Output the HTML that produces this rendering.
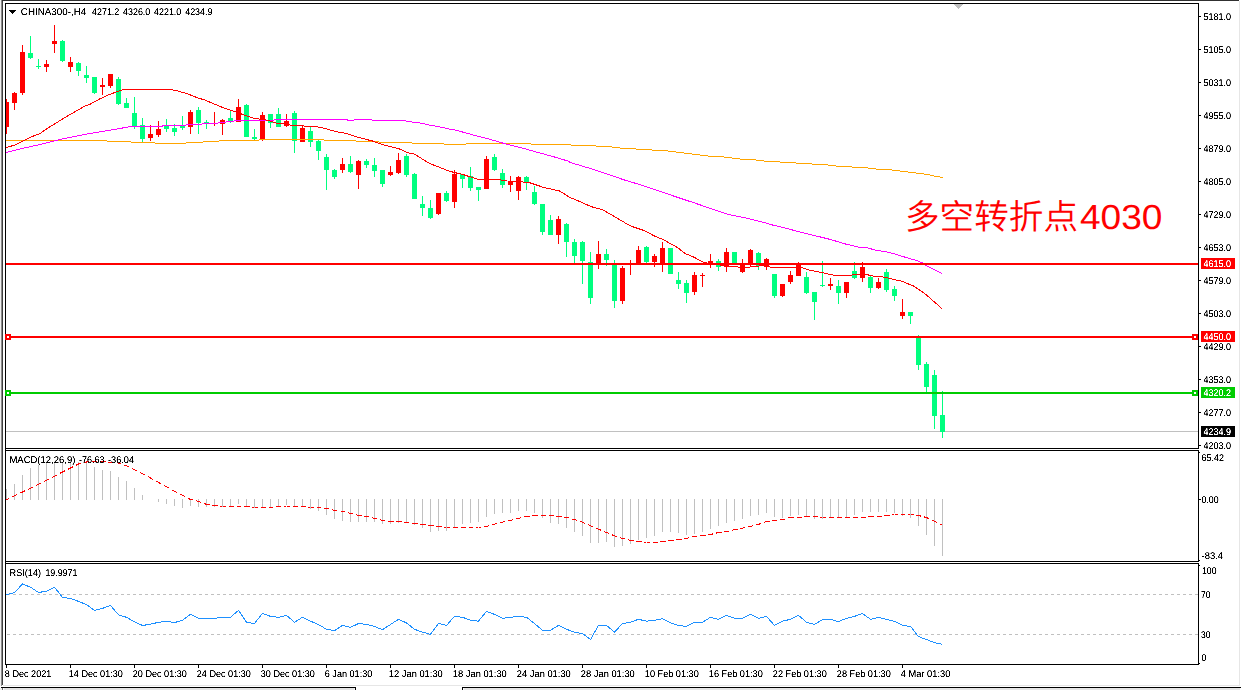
<!DOCTYPE html>
<html lang="zh"><head><meta charset="utf-8"><title>CHINA300-,H4</title>
<style>html,body{margin:0;padding:0;background:#fff;overflow:hidden}svg{display:block}.t{font-family:"Liberation Sans",sans-serif;white-space:pre;text-rendering:geometricPrecision}.big{font-family:"Liberation Sans","Noto Sans CJK SC",sans-serif}</style></head><body>
<svg width="1241" height="690" viewBox="0 0 1241 690" shape-rendering="crispEdges">
<defs><filter id="crisp" x="0" y="0" width="1" height="1" color-interpolation-filters="sRGB"><feComponentTransfer><feFuncA type="table" tableValues="0 0 0.2 0.55 0.9 1 1 1"/></feComponentTransfer></filter></defs>
<rect x="0" y="0" width="1241" height="690" fill="#ffffff"/>
<rect x="0" y="0" width="1" height="686" fill="#f0f0f0"/>
<rect x="1" y="0" width="1" height="686" fill="#8c8c8c"/>
<rect x="2" y="0" width="1" height="685" fill="#404040"/>
<rect x="2" y="0" width="1237" height="1" fill="#303030"/>
<rect x="1239" y="1" width="1" height="685" fill="#e6e6e6"/>
<rect x="3" y="685" width="1237" height="1" fill="#e6e6e6"/>
<rect x="1" y="687" width="355" height="1" fill="#000"/>
<rect x="355" y="687" width="1" height="3" fill="#000"/>
<rect x="4" y="688" width="350" height="2" fill="#e4e4e4"/>
<rect x="354" y="688" width="1" height="2" fill="#f4f4f4"/>
<rect x="2" y="688" width="1" height="2" fill="#707070"/>
<rect x="0" y="688" width="2" height="2" fill="#f0f0f0"/>
<rect x="462" y="687" width="779" height="1" fill="#000"/>
<rect x="462" y="687" width="1" height="3" fill="#000"/>
<rect x="464" y="688" width="776" height="2" fill="#e6e6e6"/>
<rect x="5" y="3" width="1194" height="1" fill="#000"/>
<rect x="5" y="3" width="1" height="662" fill="#000"/>
<rect x="5" y="448" width="1194" height="1" fill="#000"/>
<rect x="5" y="450" width="1194" height="1" fill="#000"/>
<rect x="5" y="561" width="1194" height="1" fill="#000"/>
<rect x="5" y="563" width="1194" height="1" fill="#000"/>
<rect x="5" y="664" width="1194" height="1" fill="#000"/>
<rect x="1198" y="3" width="1" height="446" fill="#000"/>
<rect x="1198" y="450" width="1" height="112" fill="#000"/>
<rect x="1198" y="563" width="1" height="102" fill="#000"/>
<rect x="5" y="449" width="1" height="1" fill="#000"/>
<rect x="5" y="562" width="1" height="1" fill="#000"/>
<rect x="954" y="4" width="9" height="1" fill="#c0c0c0"/>
<rect x="955" y="5" width="7" height="1" fill="#c0c0c0"/>
<rect x="956" y="6" width="5" height="1" fill="#c0c0c0"/>
<rect x="957" y="7" width="3" height="1" fill="#c0c0c0"/>
<rect x="958" y="8" width="1" height="1" fill="#c0c0c0"/>
<rect x="9" y="10" width="7" height="1" fill="#000"/>
<rect x="10" y="11" width="5" height="1" fill="#000"/>
<rect x="11" y="12" width="3" height="1" fill="#000"/>
<rect x="12" y="13" width="1" height="1" fill="#000"/>
<rect x="6" y="431" width="1192" height="1" fill="#c0c0c0"/>
<rect x="6" y="99" width="1" height="35" fill="#ff0000"/>
<rect x="6" y="102" width="3" height="25" fill="#ff0000"/>
<rect x="14" y="92" width="1" height="18" fill="#ff0000"/>
<rect x="12" y="93" width="5" height="10" fill="#ff0000"/>
<rect x="22" y="45" width="1" height="50" fill="#ff0000"/>
<rect x="20" y="52" width="5" height="41" fill="#ff0000"/>
<rect x="30" y="36" width="1" height="23" fill="#00ff7f"/>
<rect x="28" y="53" width="5" height="5" fill="#00ff7f"/>
<rect x="38" y="59" width="1" height="10" fill="#00ff7f"/>
<rect x="36" y="66" width="5" height="1" fill="#00ff7f"/>
<rect x="46" y="60" width="1" height="12" fill="#ff0000"/>
<rect x="44" y="64" width="5" height="3" fill="#ff0000"/>
<rect x="54" y="25" width="1" height="28" fill="#ff0000"/>
<rect x="52" y="41" width="5" height="3" fill="#ff0000"/>
<rect x="62" y="40" width="1" height="22" fill="#00ff7f"/>
<rect x="60" y="41" width="5" height="20" fill="#00ff7f"/>
<rect x="70" y="57" width="1" height="15" fill="#ff0000"/>
<rect x="68" y="62" width="5" height="5" fill="#ff0000"/>
<rect x="78" y="62" width="1" height="14" fill="#00ff7f"/>
<rect x="76" y="63" width="5" height="8" fill="#00ff7f"/>
<rect x="86" y="66" width="1" height="17" fill="#00ff7f"/>
<rect x="84" y="75" width="5" height="3" fill="#00ff7f"/>
<rect x="94" y="77" width="1" height="17" fill="#00ff7f"/>
<rect x="92" y="77" width="5" height="16" fill="#00ff7f"/>
<rect x="102" y="78" width="1" height="17" fill="#ff0000"/>
<rect x="100" y="85" width="5" height="2" fill="#ff0000"/>
<rect x="110" y="74" width="1" height="14" fill="#ff0000"/>
<rect x="108" y="74" width="5" height="12" fill="#ff0000"/>
<rect x="118" y="77" width="1" height="28" fill="#00ff7f"/>
<rect x="116" y="79" width="5" height="25" fill="#00ff7f"/>
<rect x="126" y="98" width="1" height="10" fill="#00ff7f"/>
<rect x="124" y="103" width="5" height="5" fill="#00ff7f"/>
<rect x="134" y="97" width="1" height="32" fill="#00ff7f"/>
<rect x="132" y="113" width="5" height="13" fill="#00ff7f"/>
<rect x="142" y="118" width="1" height="24" fill="#00ff7f"/>
<rect x="140" y="125" width="5" height="14" fill="#00ff7f"/>
<rect x="150" y="125" width="1" height="16" fill="#ff0000"/>
<rect x="148" y="134" width="5" height="4" fill="#ff0000"/>
<rect x="158" y="121" width="1" height="16" fill="#ff0000"/>
<rect x="156" y="129" width="5" height="6" fill="#ff0000"/>
<rect x="166" y="119" width="1" height="13" fill="#00ff7f"/>
<rect x="164" y="126" width="5" height="3" fill="#00ff7f"/>
<rect x="174" y="124" width="1" height="12" fill="#00ff7f"/>
<rect x="172" y="128" width="5" height="4" fill="#00ff7f"/>
<rect x="182" y="116" width="1" height="14" fill="#00ff7f"/>
<rect x="180" y="126" width="5" height="2" fill="#00ff7f"/>
<rect x="190" y="110" width="1" height="24" fill="#ff0000"/>
<rect x="188" y="112" width="5" height="15" fill="#ff0000"/>
<rect x="198" y="107" width="1" height="27" fill="#00ff7f"/>
<rect x="196" y="110" width="5" height="13" fill="#00ff7f"/>
<rect x="206" y="120" width="1" height="9" fill="#00ff7f"/>
<rect x="204" y="122" width="5" height="1" fill="#00ff7f"/>
<rect x="214" y="112" width="1" height="14" fill="#ff0000"/>
<rect x="212" y="123" width="5" height="1" fill="#ff0000"/>
<rect x="222" y="119" width="1" height="16" fill="#ff0000"/>
<rect x="220" y="120" width="5" height="4" fill="#ff0000"/>
<rect x="230" y="111" width="1" height="12" fill="#00ff7f"/>
<rect x="228" y="118" width="5" height="3" fill="#00ff7f"/>
<rect x="238" y="99" width="1" height="23" fill="#ff0000"/>
<rect x="236" y="107" width="5" height="15" fill="#ff0000"/>
<rect x="246" y="104" width="1" height="33" fill="#00ff7f"/>
<rect x="244" y="105" width="5" height="32" fill="#00ff7f"/>
<rect x="254" y="129" width="1" height="11" fill="#00ff7f"/>
<rect x="252" y="137" width="5" height="2" fill="#00ff7f"/>
<rect x="262" y="112" width="1" height="29" fill="#ff0000"/>
<rect x="260" y="115" width="5" height="24" fill="#ff0000"/>
<rect x="270" y="114" width="1" height="14" fill="#00ff7f"/>
<rect x="268" y="114" width="5" height="9" fill="#00ff7f"/>
<rect x="278" y="108" width="1" height="19" fill="#00ff7f"/>
<rect x="276" y="114" width="5" height="13" fill="#00ff7f"/>
<rect x="286" y="114" width="1" height="13" fill="#ff0000"/>
<rect x="284" y="121" width="5" height="5" fill="#ff0000"/>
<rect x="294" y="111" width="1" height="42" fill="#00ff7f"/>
<rect x="292" y="113" width="5" height="28" fill="#00ff7f"/>
<rect x="302" y="125" width="1" height="17" fill="#ff0000"/>
<rect x="300" y="128" width="5" height="14" fill="#ff0000"/>
<rect x="310" y="127" width="1" height="20" fill="#00ff7f"/>
<rect x="308" y="131" width="5" height="11" fill="#00ff7f"/>
<rect x="318" y="140" width="1" height="20" fill="#00ff7f"/>
<rect x="316" y="141" width="5" height="10" fill="#00ff7f"/>
<rect x="326" y="154" width="1" height="36" fill="#00ff7f"/>
<rect x="324" y="157" width="5" height="13" fill="#00ff7f"/>
<rect x="334" y="169" width="1" height="10" fill="#00ff7f"/>
<rect x="332" y="170" width="5" height="7" fill="#00ff7f"/>
<rect x="342" y="158" width="1" height="15" fill="#ff0000"/>
<rect x="340" y="164" width="5" height="6" fill="#ff0000"/>
<rect x="350" y="156" width="1" height="17" fill="#00ff7f"/>
<rect x="348" y="164" width="5" height="8" fill="#00ff7f"/>
<rect x="358" y="160" width="1" height="29" fill="#ff0000"/>
<rect x="356" y="161" width="5" height="14" fill="#ff0000"/>
<rect x="366" y="159" width="1" height="9" fill="#00ff7f"/>
<rect x="364" y="161" width="5" height="4" fill="#00ff7f"/>
<rect x="374" y="158" width="1" height="19" fill="#00ff7f"/>
<rect x="372" y="165" width="5" height="6" fill="#00ff7f"/>
<rect x="382" y="170" width="1" height="17" fill="#00ff7f"/>
<rect x="380" y="170" width="5" height="14" fill="#00ff7f"/>
<rect x="390" y="166" width="1" height="10" fill="#ff0000"/>
<rect x="388" y="172" width="5" height="3" fill="#ff0000"/>
<rect x="398" y="153" width="1" height="21" fill="#ff0000"/>
<rect x="396" y="160" width="5" height="13" fill="#ff0000"/>
<rect x="406" y="154" width="1" height="23" fill="#00ff7f"/>
<rect x="404" y="156" width="5" height="19" fill="#00ff7f"/>
<rect x="414" y="173" width="1" height="26" fill="#00ff7f"/>
<rect x="412" y="174" width="5" height="25" fill="#00ff7f"/>
<rect x="422" y="196" width="1" height="20" fill="#00ff7f"/>
<rect x="420" y="204" width="5" height="4" fill="#00ff7f"/>
<rect x="430" y="200" width="1" height="19" fill="#00ff7f"/>
<rect x="428" y="208" width="5" height="10" fill="#00ff7f"/>
<rect x="438" y="193" width="1" height="22" fill="#ff0000"/>
<rect x="436" y="193" width="5" height="21" fill="#ff0000"/>
<rect x="446" y="191" width="1" height="11" fill="#00ff7f"/>
<rect x="444" y="193" width="5" height="8" fill="#00ff7f"/>
<rect x="454" y="170" width="1" height="38" fill="#ff0000"/>
<rect x="452" y="174" width="5" height="28" fill="#ff0000"/>
<rect x="462" y="174" width="1" height="14" fill="#00ff7f"/>
<rect x="460" y="174" width="5" height="5" fill="#00ff7f"/>
<rect x="470" y="167" width="1" height="24" fill="#00ff7f"/>
<rect x="468" y="176" width="5" height="12" fill="#00ff7f"/>
<rect x="478" y="187" width="1" height="14" fill="#00ff7f"/>
<rect x="476" y="187" width="5" height="3" fill="#00ff7f"/>
<rect x="486" y="156" width="1" height="33" fill="#ff0000"/>
<rect x="484" y="159" width="5" height="30" fill="#ff0000"/>
<rect x="494" y="154" width="1" height="17" fill="#00ff7f"/>
<rect x="492" y="157" width="5" height="13" fill="#00ff7f"/>
<rect x="502" y="169" width="1" height="19" fill="#00ff7f"/>
<rect x="500" y="173" width="5" height="12" fill="#00ff7f"/>
<rect x="510" y="176" width="1" height="16" fill="#ff0000"/>
<rect x="508" y="181" width="5" height="4" fill="#ff0000"/>
<rect x="518" y="176" width="1" height="24" fill="#ff0000"/>
<rect x="516" y="177" width="5" height="14" fill="#ff0000"/>
<rect x="526" y="176" width="1" height="14" fill="#00ff7f"/>
<rect x="524" y="177" width="5" height="5" fill="#00ff7f"/>
<rect x="534" y="186" width="1" height="19" fill="#00ff7f"/>
<rect x="532" y="192" width="5" height="12" fill="#00ff7f"/>
<rect x="542" y="204" width="1" height="31" fill="#00ff7f"/>
<rect x="540" y="204" width="5" height="28" fill="#00ff7f"/>
<rect x="550" y="215" width="1" height="20" fill="#00ff7f"/>
<rect x="548" y="220" width="5" height="15" fill="#00ff7f"/>
<rect x="558" y="216" width="1" height="28" fill="#ff0000"/>
<rect x="556" y="219" width="5" height="16" fill="#ff0000"/>
<rect x="566" y="223" width="1" height="34" fill="#00ff7f"/>
<rect x="564" y="224" width="5" height="18" fill="#00ff7f"/>
<rect x="574" y="239" width="1" height="24" fill="#00ff7f"/>
<rect x="572" y="242" width="5" height="14" fill="#00ff7f"/>
<rect x="582" y="241" width="1" height="43" fill="#00ff7f"/>
<rect x="580" y="242" width="5" height="19" fill="#00ff7f"/>
<rect x="590" y="252" width="1" height="52" fill="#00ff7f"/>
<rect x="588" y="262" width="5" height="36" fill="#00ff7f"/>
<rect x="598" y="241" width="1" height="28" fill="#ff0000"/>
<rect x="596" y="254" width="5" height="10" fill="#ff0000"/>
<rect x="606" y="249" width="1" height="17" fill="#00ff7f"/>
<rect x="604" y="254" width="5" height="6" fill="#00ff7f"/>
<rect x="614" y="260" width="1" height="48" fill="#00ff7f"/>
<rect x="612" y="265" width="5" height="36" fill="#00ff7f"/>
<rect x="622" y="266" width="1" height="38" fill="#ff0000"/>
<rect x="620" y="268" width="5" height="33" fill="#ff0000"/>
<rect x="630" y="260" width="1" height="15" fill="#ff0000"/>
<rect x="628" y="263" width="5" height="1" fill="#ff0000"/>
<rect x="638" y="246" width="1" height="17" fill="#ff0000"/>
<rect x="636" y="250" width="5" height="13" fill="#ff0000"/>
<rect x="646" y="246" width="1" height="17" fill="#00ff7f"/>
<rect x="644" y="247" width="5" height="15" fill="#00ff7f"/>
<rect x="654" y="254" width="1" height="13" fill="#ff0000"/>
<rect x="652" y="256" width="5" height="6" fill="#ff0000"/>
<rect x="662" y="242" width="1" height="30" fill="#ff0000"/>
<rect x="660" y="248" width="5" height="15" fill="#ff0000"/>
<rect x="670" y="248" width="1" height="26" fill="#00ff7f"/>
<rect x="668" y="248" width="5" height="26" fill="#00ff7f"/>
<rect x="678" y="272" width="1" height="17" fill="#00ff7f"/>
<rect x="676" y="280" width="5" height="4" fill="#00ff7f"/>
<rect x="686" y="280" width="1" height="23" fill="#00ff7f"/>
<rect x="684" y="283" width="5" height="10" fill="#00ff7f"/>
<rect x="694" y="272" width="1" height="23" fill="#ff0000"/>
<rect x="692" y="275" width="5" height="17" fill="#ff0000"/>
<rect x="702" y="273" width="1" height="14" fill="#ff0000"/>
<rect x="700" y="275" width="5" height="1" fill="#ff0000"/>
<rect x="710" y="254" width="1" height="14" fill="#ff0000"/>
<rect x="708" y="261" width="5" height="4" fill="#ff0000"/>
<rect x="718" y="259" width="1" height="12" fill="#00ff7f"/>
<rect x="716" y="261" width="5" height="6" fill="#00ff7f"/>
<rect x="726" y="248" width="1" height="24" fill="#ff0000"/>
<rect x="724" y="252" width="5" height="15" fill="#ff0000"/>
<rect x="734" y="252" width="1" height="11" fill="#00ff7f"/>
<rect x="732" y="252" width="5" height="11" fill="#00ff7f"/>
<rect x="742" y="259" width="1" height="14" fill="#ff0000"/>
<rect x="740" y="264" width="5" height="8" fill="#ff0000"/>
<rect x="750" y="249" width="1" height="17" fill="#ff0000"/>
<rect x="748" y="250" width="5" height="15" fill="#ff0000"/>
<rect x="758" y="252" width="1" height="18" fill="#00ff7f"/>
<rect x="756" y="253" width="5" height="13" fill="#00ff7f"/>
<rect x="766" y="258" width="1" height="12" fill="#ff0000"/>
<rect x="764" y="259" width="5" height="8" fill="#ff0000"/>
<rect x="774" y="274" width="1" height="24" fill="#00ff7f"/>
<rect x="772" y="274" width="5" height="22" fill="#00ff7f"/>
<rect x="782" y="284" width="1" height="13" fill="#ff0000"/>
<rect x="780" y="284" width="5" height="12" fill="#ff0000"/>
<rect x="790" y="271" width="1" height="13" fill="#ff0000"/>
<rect x="788" y="275" width="5" height="7" fill="#ff0000"/>
<rect x="798" y="262" width="1" height="14" fill="#ff0000"/>
<rect x="796" y="263" width="5" height="13" fill="#ff0000"/>
<rect x="806" y="272" width="1" height="22" fill="#00ff7f"/>
<rect x="804" y="277" width="5" height="16" fill="#00ff7f"/>
<rect x="814" y="292" width="1" height="28" fill="#00ff7f"/>
<rect x="812" y="292" width="5" height="10" fill="#00ff7f"/>
<rect x="822" y="261" width="1" height="26" fill="#00ff7f"/>
<rect x="820" y="285" width="5" height="1" fill="#00ff7f"/>
<rect x="830" y="278" width="1" height="12" fill="#ff0000"/>
<rect x="828" y="284" width="5" height="2" fill="#ff0000"/>
<rect x="838" y="280" width="1" height="24" fill="#00ff7f"/>
<rect x="836" y="286" width="5" height="7" fill="#00ff7f"/>
<rect x="846" y="282" width="1" height="16" fill="#ff0000"/>
<rect x="844" y="282" width="5" height="11" fill="#ff0000"/>
<rect x="854" y="262" width="1" height="17" fill="#00ff7f"/>
<rect x="852" y="271" width="5" height="7" fill="#00ff7f"/>
<rect x="862" y="262" width="1" height="20" fill="#ff0000"/>
<rect x="860" y="267" width="5" height="11" fill="#ff0000"/>
<rect x="870" y="276" width="1" height="17" fill="#00ff7f"/>
<rect x="868" y="277" width="5" height="11" fill="#00ff7f"/>
<rect x="878" y="278" width="1" height="11" fill="#ff0000"/>
<rect x="876" y="282" width="5" height="6" fill="#ff0000"/>
<rect x="886" y="269" width="1" height="23" fill="#00ff7f"/>
<rect x="884" y="272" width="5" height="18" fill="#00ff7f"/>
<rect x="894" y="286" width="1" height="15" fill="#00ff7f"/>
<rect x="892" y="289" width="5" height="7" fill="#00ff7f"/>
<rect x="902" y="299" width="1" height="20" fill="#ff0000"/>
<rect x="900" y="312" width="5" height="4" fill="#ff0000"/>
<rect x="910" y="312" width="1" height="12" fill="#00ff7f"/>
<rect x="908" y="312" width="5" height="4" fill="#00ff7f"/>
<rect x="918" y="335" width="1" height="35" fill="#00ff7f"/>
<rect x="916" y="338" width="5" height="27" fill="#00ff7f"/>
<rect x="926" y="362" width="1" height="30" fill="#00ff7f"/>
<rect x="924" y="364" width="5" height="23" fill="#00ff7f"/>
<rect x="934" y="370" width="1" height="59" fill="#00ff7f"/>
<rect x="932" y="375" width="5" height="41" fill="#00ff7f"/>
<rect x="942" y="391" width="1" height="47" fill="#00ff7f"/>
<rect x="940" y="415" width="5" height="17" fill="#00ff7f"/>
<rect x="6" y="140" width="101" height="1" fill="#ffa500"/>
<rect x="107" y="141" width="24" height="1" fill="#ffa500"/>
<rect x="131" y="142" width="24" height="1" fill="#ffa500"/>
<rect x="155" y="143" width="31" height="1" fill="#ffa500"/>
<rect x="186" y="142" width="17" height="1" fill="#ffa500"/>
<rect x="203" y="141" width="16" height="1" fill="#ffa500"/>
<rect x="219" y="140" width="40" height="1" fill="#ffa500"/>
<rect x="259" y="139" width="65" height="1" fill="#ffa500"/>
<rect x="324" y="140" width="32" height="1" fill="#ffa500"/>
<rect x="356" y="141" width="23" height="1" fill="#ffa500"/>
<rect x="379" y="142" width="33" height="1" fill="#ffa500"/>
<rect x="412" y="143" width="32" height="1" fill="#ffa500"/>
<rect x="444" y="144" width="22" height="1" fill="#ffa500"/>
<rect x="466" y="143" width="65" height="1" fill="#ffa500"/>
<rect x="531" y="144" width="40" height="1" fill="#ffa500"/>
<rect x="571" y="145" width="25" height="1" fill="#ffa500"/>
<rect x="596" y="146" width="16" height="1" fill="#ffa500"/>
<rect x="612" y="147" width="8" height="1" fill="#ffa500"/>
<rect x="620" y="148" width="16" height="1" fill="#ffa500"/>
<rect x="636" y="149" width="16" height="1" fill="#ffa500"/>
<rect x="652" y="150" width="16" height="1" fill="#ffa500"/>
<rect x="668" y="151" width="8" height="1" fill="#ffa500"/>
<rect x="676" y="152" width="8" height="1" fill="#ffa500"/>
<rect x="684" y="153" width="8" height="1" fill="#ffa500"/>
<rect x="692" y="154" width="8" height="1" fill="#ffa500"/>
<rect x="700" y="155" width="8" height="1" fill="#ffa500"/>
<rect x="708" y="156" width="16" height="1" fill="#ffa500"/>
<rect x="724" y="157" width="8" height="1" fill="#ffa500"/>
<rect x="732" y="158" width="8" height="1" fill="#ffa500"/>
<rect x="740" y="159" width="16" height="1" fill="#ffa500"/>
<rect x="756" y="160" width="8" height="1" fill="#ffa500"/>
<rect x="764" y="161" width="16" height="1" fill="#ffa500"/>
<rect x="780" y="162" width="16" height="1" fill="#ffa500"/>
<rect x="796" y="163" width="16" height="1" fill="#ffa500"/>
<rect x="812" y="164" width="16" height="1" fill="#ffa500"/>
<rect x="828" y="165" width="8" height="1" fill="#ffa500"/>
<rect x="836" y="166" width="16" height="1" fill="#ffa500"/>
<rect x="852" y="167" width="16" height="1" fill="#ffa500"/>
<rect x="868" y="168" width="8" height="1" fill="#ffa500"/>
<rect x="876" y="169" width="16" height="1" fill="#ffa500"/>
<rect x="892" y="170" width="8" height="1" fill="#ffa500"/>
<rect x="900" y="171" width="8" height="1" fill="#ffa500"/>
<rect x="908" y="172" width="8" height="1" fill="#ffa500"/>
<rect x="916" y="173" width="8" height="1" fill="#ffa500"/>
<rect x="924" y="174" width="6" height="1" fill="#ffa500"/>
<rect x="930" y="175" width="4" height="1" fill="#ffa500"/>
<rect x="934" y="176" width="6" height="1" fill="#ffa500"/>
<rect x="940" y="177" width="3" height="1" fill="#ffa500"/>
<g>
<polyline points="6.0,152.6 21.7,148.6 43.5,143.7 65.2,138.3 80.0,135.5 89.7,133.5 104.3,131.1 118.8,128.7 130.5,126.5 162.0,126.5 163.0,125.5 185.5,125.5 186.5,124.5 201.5,124.5 202.5,123.5 217.5,123.5 218.5,122.5 225.5,122.5 226.5,121.5 233.5,121.5 234.5,120.5 273.5,120.5 274.5,119.5 347.0,119.5 348.0,120.5 353.6,120.5 354.6,119.5 371.3,119.5 372.3,120.5 402.6,120.5 410.5,121.8 419.3,122.9 429.4,125.0 439.6,126.9 449.7,129.1 456.4,130.3 472.5,134.8 488.6,138.9 504.8,143.7 520.9,147.7 537.0,152.2 553.1,156.6 569.2,161.4 570.0,162.4 587.7,167.7 605.5,173.4 623.2,179.6 640.9,184.9 658.6,190.8 676.4,197.0 694.0,202.8 711.8,208.9 729.5,214.7 747.3,218.3 765.0,222.7 772.5,225.0 787.0,228.6 801.5,232.3 816.0,235.9 830.5,239.5 845.0,243.9 859.6,247.3 866.5,247.5 874.5,249.9 889.0,252.3 903.5,256.7 918.0,261.0 922.4,262.9 926.7,265.8 942.0,273.7" fill="none" stroke="#ff00ff" stroke-width="1" />
</g>
<polyline points="6.0,147.5 14.1,145.3 21.7,141.5 30.4,137.2 40.2,133.4 48.9,127.4 58.7,121.4 67.4,116.0 76.1,111.1 84.8,106.2 89.7,104.4 99.4,99.1 109.0,94.7 118.8,91.0 124.2,89.5 170.8,89.5 177.0,90.8 186.8,93.5 196.5,97.4 205.3,100.2 222.2,107.3 238.3,112.9 254.5,118.5 260.9,119.3 269.0,120.5 277.0,123.5 285.0,123.5 293.1,125.8 314.0,126.2 322.2,127.7 335.0,131.4 345.3,133.2 356.9,137.0 372.8,141.1 381.5,144.3 398.9,148.7 407.6,152.7 414.5,154.1 429.0,163.2 449.3,171.2 463.8,174.8 478.3,179.5 498.6,179.5 501.5,180.2 507.3,181.0 523.3,182.0 530.5,183.0 543.6,187.4 559.6,191.0 570.0,197.5 580.6,201.9 591.3,206.7 601.9,209.4 614.3,216.5 630.3,225.9 644.5,230.7 654.6,236.1 663.3,239.7 677.8,247.7 685.0,253.5 693.8,257.1 702.5,261.8 710.0,264.0 720.0,265.0 729.0,266.3 737.7,267.0 745.0,268.0 753.7,266.3 765.3,265.6 774.0,268.0 779.8,267.5 801.5,267.5 808.8,270.0 823.3,272.9 834.9,275.5 850.9,275.5 853.8,274.5 866.8,274.5 871.2,275.8 883.2,277.0 902.0,281.3 913.7,286.1 925.3,294.0 942.0,308.6" fill="none" stroke="#ff0000" stroke-width="1" />
<rect x="6" y="263" width="1192" height="2" fill="#ff0000"/>
<rect x="6" y="336" width="1192" height="2" fill="#ff0000"/>
<rect x="6" y="392" width="1192" height="2" fill="#00cc00"/>
<rect x="5" y="334" width="6" height="6" fill="#ff0000"/>
<rect x="7" y="336" width="2" height="2" fill="#fff"/>
<rect x="1192" y="334" width="6" height="6" fill="#ff0000"/>
<rect x="1194" y="336" width="2" height="2" fill="#fff"/>
<rect x="5" y="390" width="6" height="6" fill="#00cc00"/>
<rect x="7" y="392" width="2" height="2" fill="#fff"/>
<rect x="1192" y="390" width="6" height="6" fill="#00cc00"/>
<rect x="1194" y="392" width="2" height="2" fill="#fff"/>
<rect x="6" y="489" width="1" height="11" fill="#c0c0c0"/>
<rect x="14" y="484" width="1" height="16" fill="#c0c0c0"/>
<rect x="22" y="475" width="1" height="25" fill="#c0c0c0"/>
<rect x="30" y="468" width="1" height="32" fill="#c0c0c0"/>
<rect x="38" y="465" width="1" height="35" fill="#c0c0c0"/>
<rect x="46" y="463" width="1" height="37" fill="#c0c0c0"/>
<rect x="54" y="462" width="1" height="38" fill="#c0c0c0"/>
<rect x="62" y="462" width="1" height="38" fill="#c0c0c0"/>
<rect x="70" y="463" width="1" height="37" fill="#c0c0c0"/>
<rect x="78" y="462" width="1" height="38" fill="#c0c0c0"/>
<rect x="86" y="462" width="1" height="38" fill="#c0c0c0"/>
<rect x="94" y="467" width="1" height="33" fill="#c0c0c0"/>
<rect x="102" y="470" width="1" height="30" fill="#c0c0c0"/>
<rect x="110" y="471" width="1" height="29" fill="#c0c0c0"/>
<rect x="118" y="477" width="1" height="23" fill="#c0c0c0"/>
<rect x="126" y="481" width="1" height="19" fill="#c0c0c0"/>
<rect x="134" y="488" width="1" height="12" fill="#c0c0c0"/>
<rect x="142" y="495" width="1" height="5" fill="#c0c0c0"/>
<rect x="158" y="499" width="1" height="3" fill="#c0c0c0"/>
<rect x="166" y="499" width="1" height="5" fill="#c0c0c0"/>
<rect x="174" y="499" width="1" height="7" fill="#c0c0c0"/>
<rect x="182" y="499" width="1" height="9" fill="#c0c0c0"/>
<rect x="190" y="499" width="1" height="7" fill="#c0c0c0"/>
<rect x="198" y="499" width="1" height="8" fill="#c0c0c0"/>
<rect x="206" y="499" width="1" height="8" fill="#c0c0c0"/>
<rect x="214" y="499" width="1" height="8" fill="#c0c0c0"/>
<rect x="222" y="499" width="1" height="8" fill="#c0c0c0"/>
<rect x="230" y="499" width="1" height="8" fill="#c0c0c0"/>
<rect x="238" y="499" width="1" height="5" fill="#c0c0c0"/>
<rect x="246" y="499" width="1" height="8" fill="#c0c0c0"/>
<rect x="254" y="499" width="1" height="9" fill="#c0c0c0"/>
<rect x="262" y="499" width="1" height="9" fill="#c0c0c0"/>
<rect x="270" y="499" width="1" height="8" fill="#c0c0c0"/>
<rect x="278" y="499" width="1" height="7" fill="#c0c0c0"/>
<rect x="286" y="499" width="1" height="6" fill="#c0c0c0"/>
<rect x="294" y="499" width="1" height="8" fill="#c0c0c0"/>
<rect x="302" y="499" width="1" height="8" fill="#c0c0c0"/>
<rect x="310" y="499" width="1" height="10" fill="#c0c0c0"/>
<rect x="318" y="499" width="1" height="12" fill="#c0c0c0"/>
<rect x="326" y="499" width="1" height="16" fill="#c0c0c0"/>
<rect x="334" y="499" width="1" height="20" fill="#c0c0c0"/>
<rect x="342" y="499" width="1" height="22" fill="#c0c0c0"/>
<rect x="350" y="499" width="1" height="23" fill="#c0c0c0"/>
<rect x="358" y="499" width="1" height="23" fill="#c0c0c0"/>
<rect x="366" y="499" width="1" height="23" fill="#c0c0c0"/>
<rect x="374" y="499" width="1" height="23" fill="#c0c0c0"/>
<rect x="382" y="499" width="1" height="25" fill="#c0c0c0"/>
<rect x="390" y="499" width="1" height="25" fill="#c0c0c0"/>
<rect x="398" y="499" width="1" height="24" fill="#c0c0c0"/>
<rect x="406" y="499" width="1" height="24" fill="#c0c0c0"/>
<rect x="414" y="499" width="1" height="26" fill="#c0c0c0"/>
<rect x="422" y="499" width="1" height="29" fill="#c0c0c0"/>
<rect x="430" y="499" width="1" height="33" fill="#c0c0c0"/>
<rect x="438" y="499" width="1" height="32" fill="#c0c0c0"/>
<rect x="446" y="499" width="1" height="32" fill="#c0c0c0"/>
<rect x="454" y="499" width="1" height="29" fill="#c0c0c0"/>
<rect x="462" y="499" width="1" height="25" fill="#c0c0c0"/>
<rect x="470" y="499" width="1" height="24" fill="#c0c0c0"/>
<rect x="478" y="499" width="1" height="23" fill="#c0c0c0"/>
<rect x="486" y="499" width="1" height="18" fill="#c0c0c0"/>
<rect x="494" y="499" width="1" height="15" fill="#c0c0c0"/>
<rect x="502" y="499" width="1" height="14" fill="#c0c0c0"/>
<rect x="510" y="499" width="1" height="14" fill="#c0c0c0"/>
<rect x="518" y="499" width="1" height="12" fill="#c0c0c0"/>
<rect x="526" y="499" width="1" height="12" fill="#c0c0c0"/>
<rect x="534" y="499" width="1" height="14" fill="#c0c0c0"/>
<rect x="542" y="499" width="1" height="19" fill="#c0c0c0"/>
<rect x="550" y="499" width="1" height="24" fill="#c0c0c0"/>
<rect x="558" y="499" width="1" height="25" fill="#c0c0c0"/>
<rect x="566" y="499" width="1" height="29" fill="#c0c0c0"/>
<rect x="574" y="499" width="1" height="33" fill="#c0c0c0"/>
<rect x="582" y="499" width="1" height="37" fill="#c0c0c0"/>
<rect x="590" y="499" width="1" height="44" fill="#c0c0c0"/>
<rect x="598" y="499" width="1" height="44" fill="#c0c0c0"/>
<rect x="606" y="499" width="1" height="43" fill="#c0c0c0"/>
<rect x="614" y="499" width="1" height="48" fill="#c0c0c0"/>
<rect x="622" y="499" width="1" height="47" fill="#c0c0c0"/>
<rect x="630" y="499" width="1" height="45" fill="#c0c0c0"/>
<rect x="638" y="499" width="1" height="41" fill="#c0c0c0"/>
<rect x="646" y="499" width="1" height="39" fill="#c0c0c0"/>
<rect x="654" y="499" width="1" height="37" fill="#c0c0c0"/>
<rect x="662" y="499" width="1" height="33" fill="#c0c0c0"/>
<rect x="670" y="499" width="1" height="33" fill="#c0c0c0"/>
<rect x="678" y="499" width="1" height="34" fill="#c0c0c0"/>
<rect x="686" y="499" width="1" height="36" fill="#c0c0c0"/>
<rect x="694" y="499" width="1" height="35" fill="#c0c0c0"/>
<rect x="702" y="499" width="1" height="33" fill="#c0c0c0"/>
<rect x="710" y="499" width="1" height="30" fill="#c0c0c0"/>
<rect x="718" y="499" width="1" height="27" fill="#c0c0c0"/>
<rect x="726" y="499" width="1" height="24" fill="#c0c0c0"/>
<rect x="734" y="499" width="1" height="22" fill="#c0c0c0"/>
<rect x="742" y="499" width="1" height="20" fill="#c0c0c0"/>
<rect x="750" y="499" width="1" height="17" fill="#c0c0c0"/>
<rect x="758" y="499" width="1" height="16" fill="#c0c0c0"/>
<rect x="766" y="499" width="1" height="14" fill="#c0c0c0"/>
<rect x="774" y="499" width="1" height="18" fill="#c0c0c0"/>
<rect x="782" y="499" width="1" height="19" fill="#c0c0c0"/>
<rect x="790" y="499" width="1" height="17" fill="#c0c0c0"/>
<rect x="798" y="499" width="1" height="16" fill="#c0c0c0"/>
<rect x="806" y="499" width="1" height="17" fill="#c0c0c0"/>
<rect x="814" y="499" width="1" height="20" fill="#c0c0c0"/>
<rect x="822" y="499" width="1" height="20" fill="#c0c0c0"/>
<rect x="830" y="499" width="1" height="19" fill="#c0c0c0"/>
<rect x="838" y="499" width="1" height="19" fill="#c0c0c0"/>
<rect x="846" y="499" width="1" height="19" fill="#c0c0c0"/>
<rect x="854" y="499" width="1" height="16" fill="#c0c0c0"/>
<rect x="862" y="499" width="1" height="13" fill="#c0c0c0"/>
<rect x="870" y="499" width="1" height="13" fill="#c0c0c0"/>
<rect x="878" y="499" width="1" height="13" fill="#c0c0c0"/>
<rect x="886" y="499" width="1" height="13" fill="#c0c0c0"/>
<rect x="894" y="499" width="1" height="14" fill="#c0c0c0"/>
<rect x="902" y="499" width="1" height="17" fill="#c0c0c0"/>
<rect x="910" y="499" width="1" height="19" fill="#c0c0c0"/>
<rect x="918" y="499" width="1" height="27" fill="#c0c0c0"/>
<rect x="926" y="499" width="1" height="36" fill="#c0c0c0"/>
<rect x="934" y="499" width="1" height="47" fill="#c0c0c0"/>
<rect x="942" y="499" width="1" height="57" fill="#c0c0c0"/>
<line x1="6.5" y1="499.6" x2="14.5" y2="495.8" stroke="#ff0000" stroke-width="1" stroke-dasharray="3 3"/>
<line x1="14.5" y1="495.8" x2="22.5" y2="492.0" stroke="#ff0000" stroke-width="1" stroke-dasharray="3 3"/>
<line x1="22.5" y1="492.0" x2="30.5" y2="488.2" stroke="#ff0000" stroke-width="1" stroke-dasharray="3 3"/>
<line x1="30.5" y1="488.2" x2="38.5" y2="484.3" stroke="#ff0000" stroke-width="1" stroke-dasharray="3 3"/>
<line x1="38.5" y1="484.3" x2="46.5" y2="480.4" stroke="#ff0000" stroke-width="1" stroke-dasharray="3 3"/>
<line x1="46.5" y1="480.4" x2="54.5" y2="476.2" stroke="#ff0000" stroke-width="1" stroke-dasharray="3 3"/>
<line x1="54.5" y1="476.2" x2="62.5" y2="472.0" stroke="#ff0000" stroke-width="1" stroke-dasharray="3 3"/>
<line x1="62.5" y1="472.0" x2="70.5" y2="468.0" stroke="#ff0000" stroke-width="1" stroke-dasharray="3 3"/>
<line x1="70.5" y1="468.0" x2="78.5" y2="464.0" stroke="#ff0000" stroke-width="1" stroke-dasharray="3 3"/>
<line x1="78.5" y1="464.0" x2="86.5" y2="462.0" stroke="#ff0000" stroke-width="1" stroke-dasharray="3 3"/>
<line x1="86.5" y1="462.0" x2="94.5" y2="461.8" stroke="#ff0000" stroke-width="1" stroke-dasharray="3 3"/>
<line x1="94.5" y1="461.8" x2="102.5" y2="461.6" stroke="#ff0000" stroke-width="1" stroke-dasharray="3 3"/>
<line x1="102.5" y1="461.6" x2="110.5" y2="462.3" stroke="#ff0000" stroke-width="1" stroke-dasharray="3 3"/>
<line x1="110.5" y1="462.3" x2="118.5" y2="463.1" stroke="#ff0000" stroke-width="1" stroke-dasharray="3 3"/>
<line x1="118.5" y1="463.1" x2="126.5" y2="465.9" stroke="#ff0000" stroke-width="1" stroke-dasharray="3 3"/>
<line x1="126.5" y1="465.9" x2="134.5" y2="469.7" stroke="#ff0000" stroke-width="1" stroke-dasharray="3 3"/>
<line x1="134.5" y1="469.7" x2="142.5" y2="473.7" stroke="#ff0000" stroke-width="1" stroke-dasharray="3 3"/>
<line x1="142.5" y1="473.7" x2="150.5" y2="478.0" stroke="#ff0000" stroke-width="1" stroke-dasharray="3 3"/>
<line x1="150.5" y1="478.0" x2="158.5" y2="482.4" stroke="#ff0000" stroke-width="1" stroke-dasharray="3 3"/>
<line x1="158.5" y1="482.4" x2="166.5" y2="486.8" stroke="#ff0000" stroke-width="1" stroke-dasharray="3 3"/>
<line x1="166.5" y1="486.8" x2="174.5" y2="491.2" stroke="#ff0000" stroke-width="1" stroke-dasharray="3 3"/>
<line x1="174.5" y1="491.2" x2="182.5" y2="495.4" stroke="#ff0000" stroke-width="1" stroke-dasharray="3 3"/>
<line x1="182.5" y1="495.4" x2="190.5" y2="499.5" stroke="#ff0000" stroke-width="1" stroke-dasharray="3 3"/>
<line x1="190.5" y1="499.5" x2="198.5" y2="501.3" stroke="#ff0000" stroke-width="1" stroke-dasharray="3 3"/>
<line x1="198.5" y1="501.3" x2="206.5" y2="504.4" stroke="#ff0000" stroke-width="1" stroke-dasharray="3 3"/>
<line x1="206.5" y1="504.4" x2="214.5" y2="505.4" stroke="#ff0000" stroke-width="1" stroke-dasharray="3 3"/>
<line x1="214.5" y1="505.4" x2="222.5" y2="506.4" stroke="#ff0000" stroke-width="1" stroke-dasharray="3 3"/>
<line x1="222.5" y1="506.4" x2="230.5" y2="506.4" stroke="#ff0000" stroke-width="1" stroke-dasharray="3 3"/>
<line x1="230.5" y1="506.4" x2="238.5" y2="506.4" stroke="#ff0000" stroke-width="1" stroke-dasharray="3 3"/>
<line x1="238.5" y1="506.4" x2="246.5" y2="506.5" stroke="#ff0000" stroke-width="1" stroke-dasharray="3 3"/>
<line x1="246.5" y1="506.5" x2="254.5" y2="507.3" stroke="#ff0000" stroke-width="1" stroke-dasharray="3 3"/>
<line x1="254.5" y1="507.3" x2="262.5" y2="507.3" stroke="#ff0000" stroke-width="1" stroke-dasharray="3 3"/>
<line x1="262.5" y1="507.3" x2="270.5" y2="507.3" stroke="#ff0000" stroke-width="1" stroke-dasharray="3 3"/>
<line x1="270.5" y1="507.3" x2="278.5" y2="506.5" stroke="#ff0000" stroke-width="1" stroke-dasharray="3 3"/>
<line x1="278.5" y1="506.5" x2="286.5" y2="506.4" stroke="#ff0000" stroke-width="1" stroke-dasharray="3 3"/>
<line x1="286.5" y1="506.4" x2="294.5" y2="506.4" stroke="#ff0000" stroke-width="1" stroke-dasharray="3 3"/>
<line x1="294.5" y1="506.4" x2="302.5" y2="506.4" stroke="#ff0000" stroke-width="1" stroke-dasharray="3 3"/>
<line x1="302.5" y1="506.4" x2="310.5" y2="507.3" stroke="#ff0000" stroke-width="1" stroke-dasharray="3 3"/>
<line x1="310.5" y1="507.3" x2="318.5" y2="507.3" stroke="#ff0000" stroke-width="1" stroke-dasharray="3 3"/>
<line x1="318.5" y1="507.3" x2="326.5" y2="508.3" stroke="#ff0000" stroke-width="1" stroke-dasharray="3 3"/>
<line x1="326.5" y1="508.3" x2="334.5" y2="510.3" stroke="#ff0000" stroke-width="1" stroke-dasharray="3 3"/>
<line x1="334.5" y1="510.3" x2="342.5" y2="511.2" stroke="#ff0000" stroke-width="1" stroke-dasharray="3 3"/>
<line x1="342.5" y1="511.2" x2="350.5" y2="513.5" stroke="#ff0000" stroke-width="1" stroke-dasharray="3 3"/>
<line x1="350.5" y1="513.5" x2="358.5" y2="515.4" stroke="#ff0000" stroke-width="1" stroke-dasharray="3 3"/>
<line x1="358.5" y1="515.4" x2="366.5" y2="516.4" stroke="#ff0000" stroke-width="1" stroke-dasharray="3 3"/>
<line x1="366.5" y1="516.4" x2="374.5" y2="518.3" stroke="#ff0000" stroke-width="1" stroke-dasharray="3 3"/>
<line x1="374.5" y1="518.3" x2="382.5" y2="520.3" stroke="#ff0000" stroke-width="1" stroke-dasharray="3 3"/>
<line x1="382.5" y1="520.3" x2="390.5" y2="521.6" stroke="#ff0000" stroke-width="1" stroke-dasharray="3 3"/>
<line x1="390.5" y1="521.6" x2="398.5" y2="521.9" stroke="#ff0000" stroke-width="1" stroke-dasharray="3 3"/>
<line x1="398.5" y1="521.9" x2="406.5" y2="522.2" stroke="#ff0000" stroke-width="1" stroke-dasharray="3 3"/>
<line x1="406.5" y1="522.2" x2="414.5" y2="523.6" stroke="#ff0000" stroke-width="1" stroke-dasharray="3 3"/>
<line x1="414.5" y1="523.6" x2="422.5" y2="524.6" stroke="#ff0000" stroke-width="1" stroke-dasharray="3 3"/>
<line x1="422.5" y1="524.6" x2="430.5" y2="525.6" stroke="#ff0000" stroke-width="1" stroke-dasharray="3 3"/>
<line x1="430.5" y1="525.6" x2="438.5" y2="526.5" stroke="#ff0000" stroke-width="1" stroke-dasharray="3 3"/>
<line x1="438.5" y1="526.5" x2="446.5" y2="527.4" stroke="#ff0000" stroke-width="1" stroke-dasharray="3 3"/>
<line x1="446.5" y1="527.4" x2="454.5" y2="527.4" stroke="#ff0000" stroke-width="1" stroke-dasharray="3 3"/>
<line x1="454.5" y1="527.4" x2="462.5" y2="527.4" stroke="#ff0000" stroke-width="1" stroke-dasharray="3 3"/>
<line x1="462.5" y1="527.4" x2="470.5" y2="527.4" stroke="#ff0000" stroke-width="1" stroke-dasharray="3 3"/>
<line x1="470.5" y1="527.4" x2="478.5" y2="527.3" stroke="#ff0000" stroke-width="1" stroke-dasharray="3 3"/>
<line x1="478.5" y1="527.3" x2="486.5" y2="526.5" stroke="#ff0000" stroke-width="1" stroke-dasharray="3 3"/>
<line x1="486.5" y1="526.5" x2="494.5" y2="524.1" stroke="#ff0000" stroke-width="1" stroke-dasharray="3 3"/>
<line x1="494.5" y1="524.1" x2="502.5" y2="522.1" stroke="#ff0000" stroke-width="1" stroke-dasharray="3 3"/>
<line x1="502.5" y1="522.1" x2="510.5" y2="520.4" stroke="#ff0000" stroke-width="1" stroke-dasharray="3 3"/>
<line x1="510.5" y1="520.4" x2="518.5" y2="518.3" stroke="#ff0000" stroke-width="1" stroke-dasharray="3 3"/>
<line x1="518.5" y1="518.3" x2="526.5" y2="516.4" stroke="#ff0000" stroke-width="1" stroke-dasharray="3 3"/>
<line x1="526.5" y1="516.4" x2="534.5" y2="515.4" stroke="#ff0000" stroke-width="1" stroke-dasharray="3 3"/>
<line x1="534.5" y1="515.4" x2="542.5" y2="515.4" stroke="#ff0000" stroke-width="1" stroke-dasharray="3 3"/>
<line x1="542.5" y1="515.4" x2="550.5" y2="515.4" stroke="#ff0000" stroke-width="1" stroke-dasharray="3 3"/>
<line x1="550.5" y1="515.4" x2="558.5" y2="516.4" stroke="#ff0000" stroke-width="1" stroke-dasharray="3 3"/>
<line x1="558.5" y1="516.4" x2="566.5" y2="517.3" stroke="#ff0000" stroke-width="1" stroke-dasharray="3 3"/>
<line x1="566.5" y1="517.3" x2="574.5" y2="519.6" stroke="#ff0000" stroke-width="1" stroke-dasharray="3 3"/>
<line x1="574.5" y1="519.6" x2="582.5" y2="522.2" stroke="#ff0000" stroke-width="1" stroke-dasharray="3 3"/>
<line x1="582.5" y1="522.2" x2="590.5" y2="525.6" stroke="#ff0000" stroke-width="1" stroke-dasharray="3 3"/>
<line x1="590.5" y1="525.6" x2="598.5" y2="529.2" stroke="#ff0000" stroke-width="1" stroke-dasharray="3 3"/>
<line x1="598.5" y1="529.2" x2="606.5" y2="532.5" stroke="#ff0000" stroke-width="1" stroke-dasharray="3 3"/>
<line x1="606.5" y1="532.5" x2="614.5" y2="535.8" stroke="#ff0000" stroke-width="1" stroke-dasharray="3 3"/>
<line x1="614.5" y1="535.8" x2="622.5" y2="538.4" stroke="#ff0000" stroke-width="1" stroke-dasharray="3 3"/>
<line x1="622.5" y1="538.4" x2="630.5" y2="540.5" stroke="#ff0000" stroke-width="1" stroke-dasharray="3 3"/>
<line x1="630.5" y1="540.5" x2="638.5" y2="541.6" stroke="#ff0000" stroke-width="1" stroke-dasharray="3 3"/>
<line x1="638.5" y1="541.6" x2="646.5" y2="542.5" stroke="#ff0000" stroke-width="1" stroke-dasharray="3 3"/>
<line x1="646.5" y1="542.5" x2="654.5" y2="542.5" stroke="#ff0000" stroke-width="1" stroke-dasharray="3 3"/>
<line x1="654.5" y1="542.5" x2="662.5" y2="541.5" stroke="#ff0000" stroke-width="1" stroke-dasharray="3 3"/>
<line x1="662.5" y1="541.5" x2="670.5" y2="540.6" stroke="#ff0000" stroke-width="1" stroke-dasharray="3 3"/>
<line x1="670.5" y1="540.6" x2="678.5" y2="539.7" stroke="#ff0000" stroke-width="1" stroke-dasharray="3 3"/>
<line x1="678.5" y1="539.7" x2="686.5" y2="538.3" stroke="#ff0000" stroke-width="1" stroke-dasharray="3 3"/>
<line x1="686.5" y1="538.3" x2="694.5" y2="536.3" stroke="#ff0000" stroke-width="1" stroke-dasharray="3 3"/>
<line x1="694.5" y1="536.3" x2="702.5" y2="535.5" stroke="#ff0000" stroke-width="1" stroke-dasharray="3 3"/>
<line x1="702.5" y1="535.5" x2="710.5" y2="534.5" stroke="#ff0000" stroke-width="1" stroke-dasharray="3 3"/>
<line x1="710.5" y1="534.5" x2="718.5" y2="532.5" stroke="#ff0000" stroke-width="1" stroke-dasharray="3 3"/>
<line x1="718.5" y1="532.5" x2="726.5" y2="531.5" stroke="#ff0000" stroke-width="1" stroke-dasharray="3 3"/>
<line x1="726.5" y1="531.5" x2="734.5" y2="529.7" stroke="#ff0000" stroke-width="1" stroke-dasharray="3 3"/>
<line x1="734.5" y1="529.7" x2="742.5" y2="528.1" stroke="#ff0000" stroke-width="1" stroke-dasharray="3 3"/>
<line x1="742.5" y1="528.1" x2="750.5" y2="526.5" stroke="#ff0000" stroke-width="1" stroke-dasharray="3 3"/>
<line x1="750.5" y1="526.5" x2="758.5" y2="524.4" stroke="#ff0000" stroke-width="1" stroke-dasharray="3 3"/>
<line x1="758.5" y1="524.4" x2="766.5" y2="521.5" stroke="#ff0000" stroke-width="1" stroke-dasharray="3 3"/>
<line x1="766.5" y1="521.5" x2="774.5" y2="520.7" stroke="#ff0000" stroke-width="1" stroke-dasharray="3 3"/>
<line x1="774.5" y1="520.7" x2="782.5" y2="519.7" stroke="#ff0000" stroke-width="1" stroke-dasharray="3 3"/>
<line x1="782.5" y1="519.7" x2="790.5" y2="517.4" stroke="#ff0000" stroke-width="1" stroke-dasharray="3 3"/>
<line x1="790.5" y1="517.4" x2="798.5" y2="517.4" stroke="#ff0000" stroke-width="1" stroke-dasharray="3 3"/>
<line x1="798.5" y1="517.4" x2="806.5" y2="516.4" stroke="#ff0000" stroke-width="1" stroke-dasharray="3 3"/>
<line x1="806.5" y1="516.4" x2="814.5" y2="516.4" stroke="#ff0000" stroke-width="1" stroke-dasharray="3 3"/>
<line x1="814.5" y1="516.4" x2="822.5" y2="517.4" stroke="#ff0000" stroke-width="1" stroke-dasharray="3 3"/>
<line x1="822.5" y1="517.4" x2="830.5" y2="517.4" stroke="#ff0000" stroke-width="1" stroke-dasharray="3 3"/>
<line x1="830.5" y1="517.4" x2="838.5" y2="517.4" stroke="#ff0000" stroke-width="1" stroke-dasharray="3 3"/>
<line x1="838.5" y1="517.4" x2="846.5" y2="517.4" stroke="#ff0000" stroke-width="1" stroke-dasharray="3 3"/>
<line x1="846.5" y1="517.4" x2="854.5" y2="517.4" stroke="#ff0000" stroke-width="1" stroke-dasharray="3 3"/>
<line x1="854.5" y1="517.4" x2="862.5" y2="517.4" stroke="#ff0000" stroke-width="1" stroke-dasharray="3 3"/>
<line x1="862.5" y1="517.4" x2="870.5" y2="516.4" stroke="#ff0000" stroke-width="1" stroke-dasharray="3 3"/>
<line x1="870.5" y1="516.4" x2="878.5" y2="516.4" stroke="#ff0000" stroke-width="1" stroke-dasharray="3 3"/>
<line x1="878.5" y1="516.4" x2="886.5" y2="515.5" stroke="#ff0000" stroke-width="1" stroke-dasharray="3 3"/>
<line x1="886.5" y1="515.5" x2="894.5" y2="514.6" stroke="#ff0000" stroke-width="1" stroke-dasharray="3 3"/>
<line x1="894.5" y1="514.6" x2="902.5" y2="514.6" stroke="#ff0000" stroke-width="1" stroke-dasharray="3 3"/>
<line x1="902.5" y1="514.6" x2="910.5" y2="514.7" stroke="#ff0000" stroke-width="1" stroke-dasharray="3 3"/>
<line x1="910.5" y1="514.7" x2="918.5" y2="515.5" stroke="#ff0000" stroke-width="1" stroke-dasharray="3 3"/>
<line x1="918.5" y1="515.5" x2="926.5" y2="517.5" stroke="#ff0000" stroke-width="1" stroke-dasharray="3 3"/>
<line x1="926.5" y1="517.5" x2="934.5" y2="521.4" stroke="#ff0000" stroke-width="1" stroke-dasharray="3 3"/>
<line x1="934.5" y1="521.4" x2="942.5" y2="525.4" stroke="#ff0000" stroke-width="1" stroke-dasharray="3 3"/>
<line x1="7" y1="594.5" x2="1198" y2="594.5" stroke="#c0c0c0" stroke-width="1" stroke-dasharray="3 3"/>
<line x1="7" y1="634.5" x2="1198" y2="634.5" stroke="#c0c0c0" stroke-width="1" stroke-dasharray="3 3"/>
<polyline points="6.5,594.7 14.5,592.5 22.5,584.0 30.5,587.2 38.5,592.5 46.5,591.2 54.5,587.2 62.5,597.3 70.5,598.5 78.5,601.4 86.5,604.6 94.5,610.5 102.5,608.4 110.5,605.4 118.5,614.9 126.5,617.3 134.5,621.8 142.5,625.5 150.5,624.2 158.5,622.3 166.5,621.3 174.5,622.6 182.5,620.2 190.5,614.3 198.5,618.3 206.5,618.3 214.5,618.3 222.5,617.3 230.5,617.3 238.5,610.4 246.5,622.2 254.5,623.5 262.5,613.3 270.5,616.4 278.5,617.3 286.5,615.4 294.5,622.2 302.5,617.3 310.5,621.2 318.5,624.5 326.5,629.3 334.5,630.7 342.5,625.4 350.5,627.4 358.5,623.5 366.5,624.5 374.5,626.4 382.5,629.7 390.5,624.5 398.5,619.3 406.5,622.9 414.5,629.3 422.5,632.2 430.5,634.3 438.5,623.5 446.5,625.4 454.5,616.4 462.5,617.3 470.5,620.2 478.5,621.2 486.5,611.3 494.5,614.4 502.5,618.3 510.5,617.3 518.5,616.4 526.5,617.3 534.5,623.5 542.5,630.3 550.5,630.3 558.5,625.4 566.5,629.3 574.5,632.2 582.5,633.6 590.5,639.6 598.5,625.4 606.5,625.4 614.5,632.2 622.5,623.5 630.5,622.2 638.5,619.3 646.5,621.2 654.5,620.2 662.5,618.8 670.5,622.9 678.5,625.4 686.5,626.4 694.5,622.2 702.5,622.2 710.5,617.3 718.5,619.3 726.5,615.4 734.5,618.3 742.5,618.3 750.5,614.4 758.5,618.3 766.5,616.4 774.5,625.4 782.5,621.2 790.5,619.3 798.5,615.4 806.5,622.2 814.5,624.5 822.5,619.6 830.5,619.3 838.5,621.6 846.5,618.3 854.5,616.4 862.5,613.5 870.5,619.3 878.5,617.3 886.5,619.3 894.5,621.4 902.5,625.4 910.5,626.4 918.5,636.6 926.5,639.5 934.5,642.6 942.5,644.3" fill="none" stroke="#1e90ff" stroke-width="1" />
<g filter="url(#crisp)">
<rect x="1199" y="16" width="2" height="1" fill="#000"/>
<text class="t" x="1203.5" y="20" fill="#000" font-size="9.8" textLength="27.5" lengthAdjust="spacingAndGlyphs">5181.0</text>
<rect x="1199" y="49" width="2" height="1" fill="#000"/>
<text class="t" x="1203.5" y="53" fill="#000" font-size="9.8" textLength="27.5" lengthAdjust="spacingAndGlyphs">5105.0</text>
<rect x="1199" y="82" width="2" height="1" fill="#000"/>
<text class="t" x="1203.5" y="86" fill="#000" font-size="9.8" textLength="27.5" lengthAdjust="spacingAndGlyphs">5031.0</text>
<rect x="1199" y="115" width="2" height="1" fill="#000"/>
<text class="t" x="1203.5" y="119" fill="#000" font-size="9.8" textLength="27.5" lengthAdjust="spacingAndGlyphs">4955.0</text>
<rect x="1199" y="148" width="2" height="1" fill="#000"/>
<text class="t" x="1203.5" y="152" fill="#000" font-size="9.8" textLength="27.5" lengthAdjust="spacingAndGlyphs">4879.0</text>
<rect x="1199" y="181" width="2" height="1" fill="#000"/>
<text class="t" x="1203.5" y="185" fill="#000" font-size="9.8" textLength="27.5" lengthAdjust="spacingAndGlyphs">4805.0</text>
<rect x="1199" y="214" width="2" height="1" fill="#000"/>
<text class="t" x="1203.5" y="218" fill="#000" font-size="9.8" textLength="27.5" lengthAdjust="spacingAndGlyphs">4729.0</text>
<rect x="1199" y="247" width="2" height="1" fill="#000"/>
<text class="t" x="1203.5" y="251" fill="#000" font-size="9.8" textLength="27.5" lengthAdjust="spacingAndGlyphs">4653.0</text>
<rect x="1199" y="280" width="2" height="1" fill="#000"/>
<text class="t" x="1203.5" y="284" fill="#000" font-size="9.8" textLength="27.5" lengthAdjust="spacingAndGlyphs">4579.0</text>
<rect x="1199" y="313" width="2" height="1" fill="#000"/>
<text class="t" x="1203.5" y="317" fill="#000" font-size="9.8" textLength="27.5" lengthAdjust="spacingAndGlyphs">4503.0</text>
<rect x="1199" y="346" width="2" height="1" fill="#000"/>
<text class="t" x="1203.5" y="350" fill="#000" font-size="9.8" textLength="27.5" lengthAdjust="spacingAndGlyphs">4429.0</text>
<rect x="1199" y="379" width="2" height="1" fill="#000"/>
<text class="t" x="1203.5" y="383" fill="#000" font-size="9.8" textLength="27.5" lengthAdjust="spacingAndGlyphs">4353.0</text>
<rect x="1199" y="412" width="2" height="1" fill="#000"/>
<text class="t" x="1203.5" y="416" fill="#000" font-size="9.8" textLength="27.5" lengthAdjust="spacingAndGlyphs">4277.0</text>
<rect x="1199" y="445" width="2" height="1" fill="#000"/>
<text class="t" x="1203.5" y="449" fill="#000" font-size="9.8" textLength="27.5" lengthAdjust="spacingAndGlyphs">4203.0</text>
<rect x="1199" y="452" width="1" height="1" fill="#000"/>
<text class="t" x="1201.5" y="461" fill="#000" font-size="9.8" textLength="22.5" lengthAdjust="spacingAndGlyphs">65.42</text>
<rect x="1199" y="499" width="2" height="1" fill="#000"/>
<text class="t" x="1201.5" y="503" fill="#000" font-size="9.8" textLength="17.2" lengthAdjust="spacingAndGlyphs">0.00</text>
<rect x="1199" y="560" width="1" height="1" fill="#000"/>
<text class="t" x="1201.5" y="559" fill="#000" font-size="9.8" textLength="21.5" lengthAdjust="spacingAndGlyphs">-83.4</text>
<rect x="1199" y="565" width="1" height="1" fill="#000"/>
<text class="t" x="1202" y="574" fill="#000" font-size="9.8" textLength="14.5" lengthAdjust="spacingAndGlyphs">100</text>
<text class="t" x="1201" y="598" fill="#000" font-size="9.8" textLength="9.5" lengthAdjust="spacingAndGlyphs">70</text>
<text class="t" x="1201" y="638" fill="#000" font-size="9.8" textLength="9.5" lengthAdjust="spacingAndGlyphs">30</text>
<rect x="1199" y="663" width="1" height="1" fill="#000"/>
<text class="t" x="1201.5" y="661" fill="#000" font-size="9.8" textLength="4.8" lengthAdjust="spacingAndGlyphs">0</text>
<rect x="6" y="665" width="1" height="3" fill="#000"/>
<text class="t" x="4.8" y="677" fill="#000" font-size="9.8" textLength="46.5" lengthAdjust="spacingAndGlyphs">8 Dec 2021</text>
<rect x="70" y="665" width="1" height="3" fill="#000"/>
<text class="t" x="68.8" y="677" fill="#000" font-size="9.8" textLength="54" lengthAdjust="spacingAndGlyphs">14 Dec 01:30</text>
<rect x="134" y="665" width="1" height="3" fill="#000"/>
<text class="t" x="132.8" y="677" fill="#000" font-size="9.8" textLength="54" lengthAdjust="spacingAndGlyphs">20 Dec 01:30</text>
<rect x="198" y="665" width="1" height="3" fill="#000"/>
<text class="t" x="196.8" y="677" fill="#000" font-size="9.8" textLength="54" lengthAdjust="spacingAndGlyphs">24 Dec 01:30</text>
<rect x="262" y="665" width="1" height="3" fill="#000"/>
<text class="t" x="260.8" y="677" fill="#000" font-size="9.8" textLength="54" lengthAdjust="spacingAndGlyphs">30 Dec 01:30</text>
<rect x="326" y="665" width="1" height="3" fill="#000"/>
<text class="t" x="324.8" y="677" fill="#000" font-size="9.8" textLength="47.5" lengthAdjust="spacingAndGlyphs">6 Jan 01:30</text>
<rect x="390" y="665" width="1" height="3" fill="#000"/>
<text class="t" x="388.8" y="677" fill="#000" font-size="9.8" textLength="54" lengthAdjust="spacingAndGlyphs">12 Jan 01:30</text>
<rect x="454" y="665" width="1" height="3" fill="#000"/>
<text class="t" x="452.8" y="677" fill="#000" font-size="9.8" textLength="54" lengthAdjust="spacingAndGlyphs">18 Jan 01:30</text>
<rect x="518" y="665" width="1" height="3" fill="#000"/>
<text class="t" x="516.8" y="677" fill="#000" font-size="9.8" textLength="54" lengthAdjust="spacingAndGlyphs">24 Jan 01:30</text>
<rect x="582" y="665" width="1" height="3" fill="#000"/>
<text class="t" x="580.8" y="677" fill="#000" font-size="9.8" textLength="54" lengthAdjust="spacingAndGlyphs">28 Jan 01:30</text>
<rect x="646" y="665" width="1" height="3" fill="#000"/>
<text class="t" x="644.8" y="677" fill="#000" font-size="9.8" textLength="54" lengthAdjust="spacingAndGlyphs">10 Feb 01:30</text>
<rect x="710" y="665" width="1" height="3" fill="#000"/>
<text class="t" x="708.8" y="677" fill="#000" font-size="9.8" textLength="54" lengthAdjust="spacingAndGlyphs">16 Feb 01:30</text>
<rect x="774" y="665" width="1" height="3" fill="#000"/>
<text class="t" x="772.8" y="677" fill="#000" font-size="9.8" textLength="54" lengthAdjust="spacingAndGlyphs">22 Feb 01:30</text>
<rect x="838" y="665" width="1" height="3" fill="#000"/>
<text class="t" x="836.8" y="677" fill="#000" font-size="9.8" textLength="54" lengthAdjust="spacingAndGlyphs">28 Feb 01:30</text>
<rect x="902" y="665" width="1" height="3" fill="#000"/>
<text class="t" x="900.8" y="677" fill="#000" font-size="9.8" textLength="49.5" lengthAdjust="spacingAndGlyphs">4 Mar 01:30</text>
<text class="t" x="20.8" y="15" fill="#000" font-size="9.8" textLength="65.5" lengthAdjust="spacingAndGlyphs">CHINA300-,H4</text>
<text class="t" x="92" y="15" fill="#000" font-size="9.8" textLength="27.3" lengthAdjust="spacingAndGlyphs">4271.2</text>
<text class="t" x="123" y="15" fill="#000" font-size="9.8" textLength="27.3" lengthAdjust="spacingAndGlyphs">4326.0</text>
<text class="t" x="154" y="15" fill="#000" font-size="9.8" textLength="27.3" lengthAdjust="spacingAndGlyphs">4221.0</text>
<text class="t" x="185.2" y="15" fill="#000" font-size="9.8" textLength="27.3" lengthAdjust="spacingAndGlyphs">4234.9</text>
<text class="t" x="9.4" y="463" fill="#000" font-size="9.8" textLength="66" lengthAdjust="spacingAndGlyphs">MACD(12,26,9)</text>
<text class="t" x="79" y="463" fill="#000" font-size="9.8" textLength="25.5" lengthAdjust="spacingAndGlyphs">-76.63</text>
<text class="t" x="108" y="463" fill="#000" font-size="9.8" textLength="26" lengthAdjust="spacingAndGlyphs">-36.04</text>
<text class="t" x="9.6" y="576" fill="#000" font-size="9.8" textLength="31.5" lengthAdjust="spacingAndGlyphs">RSI(14)</text>
<text class="t" x="45.4" y="576" fill="#000" font-size="9.8" textLength="32" lengthAdjust="spacingAndGlyphs">19.9971</text>
</g>
<rect x="1201" y="258" width="34" height="11" fill="#ff0000"/>
<g filter="url(#crisp)">
<text class="t" x="1203.5" y="267" fill="#fff" font-size="9.8" textLength="27.5" lengthAdjust="spacingAndGlyphs">4615.0</text>
</g>
<rect x="1201" y="331" width="34" height="11" fill="#ff0000"/>
<g filter="url(#crisp)">
<text class="t" x="1203.5" y="340" fill="#fff" font-size="9.8" textLength="27.5" lengthAdjust="spacingAndGlyphs">4450.0</text>
</g>
<rect x="1201" y="387" width="34" height="11" fill="#00cc00"/>
<g filter="url(#crisp)">
<text class="t" x="1203.5" y="396" fill="#fff" font-size="9.8" textLength="27.5" lengthAdjust="spacingAndGlyphs">4320.2</text>
</g>
<rect x="1201" y="426" width="34" height="11" fill="#000000"/>
<g filter="url(#crisp)">
<text class="t" x="1203.5" y="435" fill="#fff" font-size="9.8" textLength="27.5" lengthAdjust="spacingAndGlyphs">4234.9</text>
</g>
<text class="big" x="905" y="228.8" fill="#ff0000" font-size="34.5" shape-rendering="auto" text-rendering="geometricPrecision"><tspan font-weight="350" textLength="173" lengthAdjust="spacingAndGlyphs">多空转折点</tspan><tspan x="1080" font-size="34.8" textLength="82.5" lengthAdjust="spacingAndGlyphs">4030</tspan></text>
</svg></body></html>
